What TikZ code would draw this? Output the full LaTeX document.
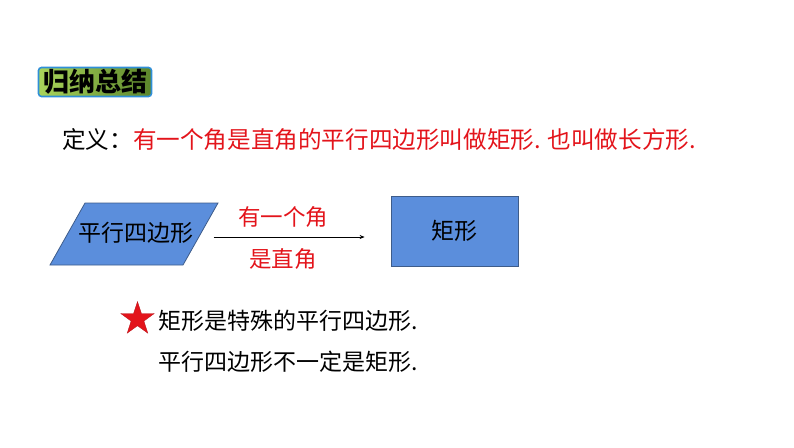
\documentclass[tikz,border=0pt]{standalone}
\usepackage{fontspec}
\usepackage{xcolor,tikz}
\usetikzlibrary{arrows.meta,positioning,calc,shapes.geometric}
\setmainfont{Noto Sans CJK SC}
\definecolor{boxblue}{HTML}{5B8EDC}
\definecolor{edgeblue}{HTML}{3E5C8A}
\definecolor{defred}{HTML}{E3141B}
\definecolor{titleedge}{HTML}{2F8FD8}
\definecolor{greenL}{HTML}{A9D45A}
\definecolor{greenR}{HTML}{5C862B}
\tikzset{shape box/.style={draw=edgeblue,fill=boxblue,line width=0.8pt},
  txt/.style={font=\fontsize{23}{27}\selectfont,inner sep=0pt},
  flow/.style={-{Stealth[length=5pt,width=4pt]},line width=0.7pt,draw=black}}
\begin{document}
\begin{tikzpicture}[x=1pt,y=-1pt]
\useasboundingbox (0,0) rectangle (794,447);
\node[draw=titleedge,line width=1.6pt,rounded corners=3pt,left color=greenL,right color=greenR,
  minimum width=113pt,minimum height=29pt,inner sep=0pt,font=\fontsize{26}{28}\selectfont\bfseries]
  (title) at (95,82) {归纳总结};
\node[txt,anchor=west,font=\fontsize{23.6}{28}\selectfont] (defn) at (62,140) {定义：\textcolor{defred}{有一个角是直角的平行四边形叫做矩形. 也叫做长方形.}};
% parallelogram drawn by hand, text on top
\path[shape box] (50,265) -- (85,203) -- (218,203) -- (183,265) -- cycle;
\node[txt] (pgram) at (136,233) {平行四边形};
\node[shape box,txt,minimum width=127pt,minimum height=70pt] (rect) at (454.5,231) {矩形};
\draw[flow] ([xshift=20pt,yshift=-4pt]pgram.east) -- ([xshift=-26pt,yshift=-6pt]rect.west);
\node[txt,font=\fontsize{22.5}{26}\selectfont,text=defred] (cond1) at (283,217) {有一个角};
\node[txt,font=\fontsize{22.5}{26}\selectfont,text=defred] (cond2) at (283,259) {是直角};
\node[star,star points=5,star point ratio=2.6,fill=defred,draw=defred!80!black,line width=0.3pt,
  minimum size=35pt,inner sep=0pt] (mark) at (137.5,319) {};
\node[txt,anchor=west] (fact1) at (158,321) {矩形是特殊的平行四边形.};
\node[txt,anchor=west] (fact2) at (158,362) {平行四边形不一定是矩形.};
\end{tikzpicture}
\end{document}
